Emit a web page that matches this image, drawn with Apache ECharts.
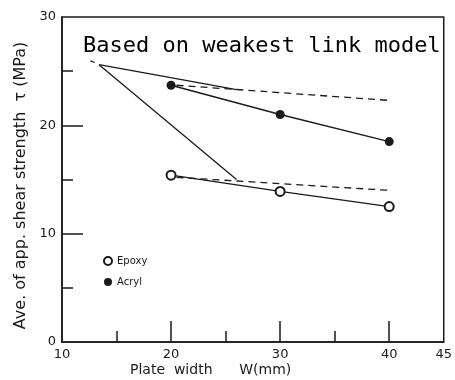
<!doctype html>
<html>
<head>
<meta charset="utf-8" />
<title>weakest link</title>
<script src="https://cdn.jsdelivr.net/npm/echarts@6/dist/echarts.min.js"></script>
<style>
  html, body { margin: 0; padding: 0; background: #fff; }
  #main { width: 455px; height: 380px; }
</style>
</head>
<body>
<div id="main"></div>
<script>
// plate width (mm)
var widths = [20, 30, 40];
// measured averages (MPa)
var epoxy = [15.4, 13.9, 12.5];
var acryl = [23.7, 21.0, 18.5];
// weakest link model predictions (dashed)
var epoxyModelX = [20.5, 40];
var epoxyModel = [15.2, 14.0];
var acrylModelX = [20.5, 40];
var acrylModel = [23.7, 22.3];
// the two guide lines from the reference point
var guideX = [13.4, 26.0];
var guideUpper = [25.6, 23.3];
var guideLower = [25.6, 15.0];
// short stub left of the reference point
var stubX = [12.6, 13.0];
var stub = [25.95, 25.8];

var xLabels = [10, 20, 30, 40, 45];
var xMinorTicks = [15, 25, 35];
var xMajorTicks = [20, 30, 40];
var yLabels = [0, 10, 20, 30];
var yMinorTicks = [5, 15, 25];
var yMajorTicks = [10, 20];

function pairs(xs, ys) {
  var out = [];
  for (var i = 0; i < xs.length; i++) out.push([xs[i], ys[i]]);
  return out;
}

var ink = '#1a1a1a';
var sans = 'DejaVu Sans';

var myChart = echarts.init(document.getElementById('main'));

var option = {
  backgroundColor: '#fff',
  animation: false,
  title: [{
    text: 'Based on weakest link model',
    left: 78, top: 30,
    textStyle: { fontFamily: 'DejaVu Sans Mono', fontSize: 22, fontWeight: 'normal', color: '#000' }
  }, {
    text: 'Plate  width      W(mm)',
    left: 125, top: 358,
    textStyle: { fontFamily: sans, fontSize: 14, fontWeight: 'normal', color: ink }
  }],
  legend: {
    orient: 'vertical',
    left: 98, top: 251,
    itemWidth: 8, itemHeight: 8, itemGap: 11,
    data: [{ name: 'Epoxy', icon: 'emptyCircle' }, { name: 'Acryl', icon: 'circle' }],
    textStyle: { fontFamily: sans, fontSize: 10, color: ink }
  },
  grid: {
    left: 62, right: 10, top: 17, bottom: 38,
    show: true, borderColor: ink, borderWidth: 1.5
  },
  xAxis: [{
    type: 'value', min: 10, max: 45, interval: 5,
    splitLine: { show: false },
    axisLine: { lineStyle: { color: ink, width: 1.5 } },
    axisTick: { inside: true, length: 11, customValues: xMinorTicks, lineStyle: { color: ink, width: 1.5 } },
    axisLabel: { customValues: xLabels, color: ink, fontFamily: sans, fontSize: 13, margin: 6 }
  }, {
    type: 'value', min: 10, max: 45, position: 'bottom',
    splitLine: { show: false },
    axisLine: { show: false },
    axisTick: { inside: true, length: 21, customValues: xMajorTicks, lineStyle: { color: ink, width: 1.5 } },
    axisLabel: { show: false }
  }],
  yAxis: [{
    type: 'value', min: 0, max: 30, interval: 5,
    name: 'Ave. of app. shear strength  \u03c4 (MPa)',
    nameLocation: 'middle', nameGap: 32,
    nameTextStyle: { fontFamily: sans, fontSize: 16, color: ink, padding: [0, 12, 0, 0] },
    splitLine: { show: false },
    axisLine: { lineStyle: { color: ink, width: 1.5 } },
    axisTick: { inside: true, length: 11, customValues: yMinorTicks, lineStyle: { color: ink, width: 1.5 } },
    axisLabel: { customValues: yLabels, color: ink, fontFamily: sans, fontSize: 13, margin: 6 }
  }, {
    type: 'value', min: 0, max: 30, position: 'left',
    splitLine: { show: false },
    axisLine: { show: false },
    axisTick: { inside: true, length: 21, customValues: yMajorTicks, lineStyle: { color: ink, width: 1.5 } },
    axisLabel: { show: false }
  }],
  series: [{
    name: 'Epoxy', type: 'line', data: pairs(widths, epoxy),
    symbol: 'emptyCircle', symbolSize: 9,
    itemStyle: { color: ink, borderWidth: 1.3 },
    lineStyle: { color: ink, width: 1.3 }
  }, {
    name: 'Acryl', type: 'line', data: pairs(widths, acryl),
    symbol: 'circle', symbolSize: 9,
    itemStyle: { color: ink },
    lineStyle: { color: ink, width: 1.3 }
  }, {
    name: 'Epoxy model', type: 'line', data: pairs(epoxyModelX, epoxyModel),
    symbol: 'none', lineStyle: { color: ink, width: 1.3, type: [7, 5] }
  }, {
    name: 'Acryl model', type: 'line', data: pairs(acrylModelX, acrylModel),
    symbol: 'none', lineStyle: { color: ink, width: 1.3, type: [7, 5] }
  }, {
    name: 'guide upper', type: 'line', data: pairs(guideX, guideUpper),
    symbol: 'none', lineStyle: { color: ink, width: 1.3 }
  }, {
    name: 'guide lower', type: 'line', data: pairs(guideX, guideLower),
    symbol: 'none', lineStyle: { color: ink, width: 1.3 }
  }, {
    name: 'stub', type: 'line', data: pairs(stubX, stub),
    symbol: 'none', lineStyle: { color: ink, width: 1.3 }
  }]
};

myChart.setOption(option);
</script>
</body>
</html>
